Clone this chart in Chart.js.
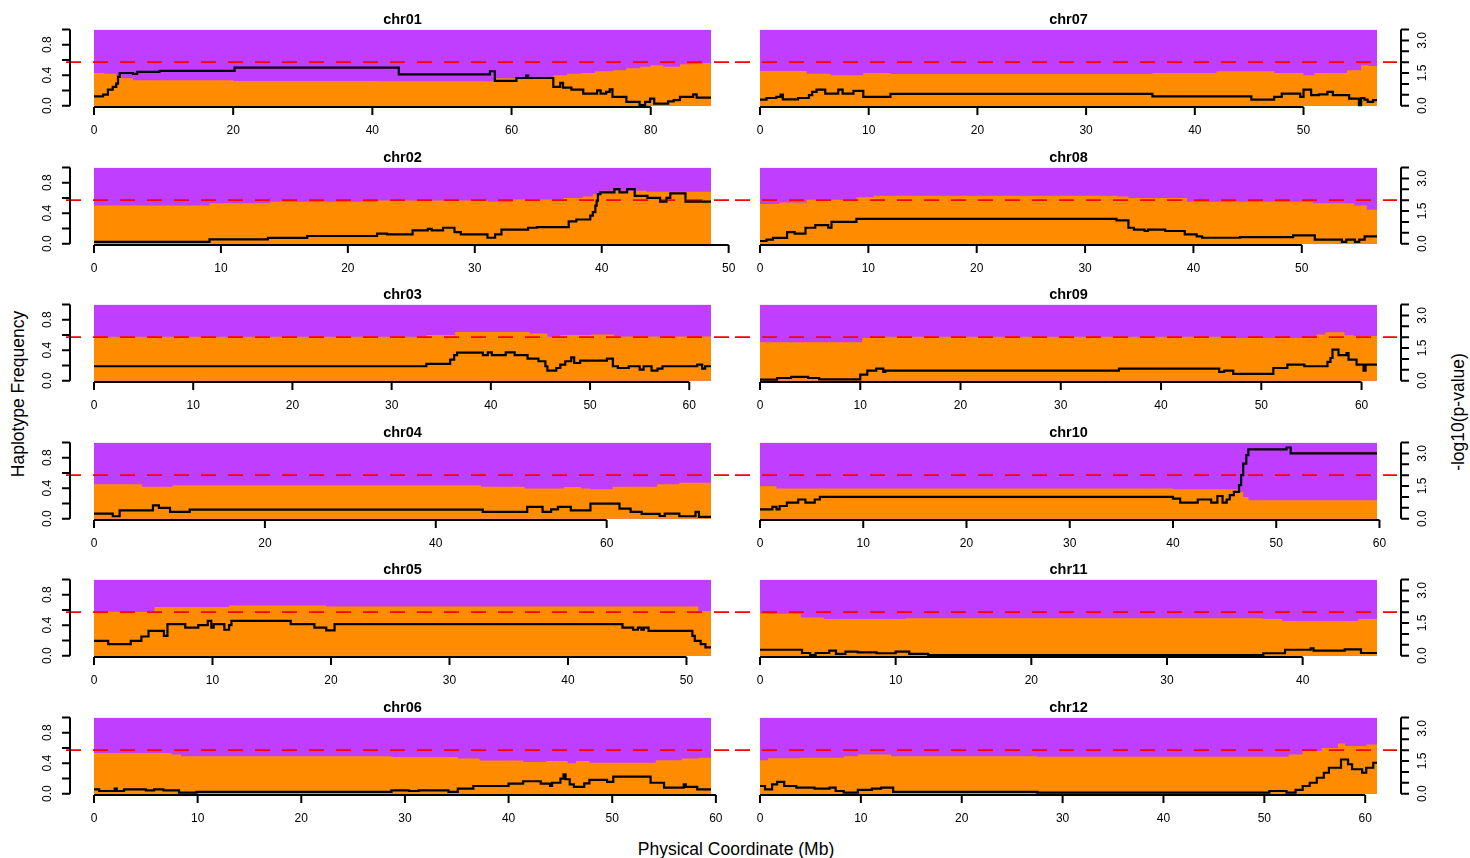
<!DOCTYPE html>
<html>
<head>
<meta charset="utf-8">
<script src="https://cdn.jsdelivr.net/npm/chart.js@4.4.1/dist/chart.umd.min.js"></script>
<style>
  body { margin: 0; background: #fff; font-family: "Liberation Sans", Arial, sans-serif; }
  #fig { position: relative; width: 1470px; height: 858px; overflow: hidden; }
  #fig canvas { position: absolute; }
  .lab { position: absolute; font-size: 17.5px; color: #000; white-space: nowrap; transform: translate(-50%, -50%); }
  .rot { transform: translate(-50%, -50%) rotate(-90deg); }
</style>
</head>
<body>
<div id="fig">
  <div class="lab rot" style="left:18px; top:394px;">Haplotype Frequency</div>
  <div class="lab rot" style="left:1458px; top:412px;">-log10(p-value)</div>
  <div class="lab" style="left:736px; top:849px;">Physical Coordinate (Mb)</div>
</div>
<script>
// chromosomes (Mb)
const chromNames = ['chr01', 'chr02', 'chr03', 'chr04', 'chr05', 'chr06', 'chr07', 'chr08', 'chr09', 'chr10', 'chr11', 'chr12'];
const chromLengths = [88.66, 48.61, 62.19, 72.21, 52.07, 59.53, 56.76, 56.94, 61.54, 59.76, 45.48, 61.17];
const chromTicks = [
    [0, 20, 40, 60, 80],
    [0, 10, 20, 30, 40, 50],
    [0, 10, 20, 30, 40, 50, 60],
    [0, 20, 40, 60],
    [0, 10, 20, 30, 40, 50],
    [0, 10, 20, 30, 40, 50, 60],
    [0, 10, 20, 30, 40, 50],
    [0, 10, 20, 30, 40, 50],
    [0, 10, 20, 30, 40, 50, 60],
    [0, 10, 20, 30, 40, 50, 60],
    [0, 10, 20, 30, 40],
    [0, 10, 20, 30, 40, 50, 60],
];

const freqTicks = [0, 0.2, 0.4, 0.6, 0.8, 1.0];
const freqLabels = ['0.0', '', '0.4', '', '0.8', ''];
const logpTicks = [0, 0.5, 1, 1.5, 2, 2.5, 3, 3.5];
const logpLabels = ['0.0', '', '', '1.5', '', '', '3.0', ''];
const threshold = 2; // -log10(0.01)

// haplotype frequency (orange part), [Mb, freq] steps
const chr01Freq = [[0,0.43],[1.5,0.42],[3.2,0.39],[4,0.36],[5.6,0.335],[20,0.325],[41,0.32],[57.5,0.36],[60.7,0.37],[66,0.40],[68,0.42],[70,0.43],[72,0.45],[74.6,0.465],[76.5,0.49],[78.5,0.51],[80,0.53],[81.8,0.51],[84.2,0.545],[86,0.55],[87.5,0.56]];
const chr02Freq = [[0,0.50],[9.1,0.53],[13.9,0.55],[22.3,0.565],[31,0.55],[33,0.58],[37,0.60],[38.5,0.62],[39.3,0.65],[39.9,0.695],[43.5,0.68]];
const chr03Freq = [[0,0.575],[33.5,0.6],[36.4,0.64],[43.9,0.62],[45.7,0.575],[47,0.6],[50.1,0.605],[52.4,0.58]];
const chr04Freq = [[0,0.45],[5.6,0.42],[9.2,0.44],[45.3,0.42],[50.4,0.395],[55,0.415],[57,0.395],[58.1,0.385],[60.7,0.42],[65.9,0.45],[68.5,0.47]];
const chr05Freq = [[0,0.575],[5.1,0.64],[11.4,0.66],[19.6,0.645],[51,0.585]];
const chr06Freq = [[0,0.535],[7.5,0.515],[8.4,0.49],[28.7,0.48],[35.1,0.46],[37.2,0.435],[41.4,0.415],[43.6,0.43],[45.7,0.40],[46.5,0.43],[47.8,0.405],[54.2,0.44],[56.7,0.46],[58.4,0.47]];
const chr07Freq = [[0,0.455],[4.3,0.42],[6.5,0.40],[9.5,0.43],[12,0.415],[36.1,0.43],[42,0.45],[47.3,0.43],[50,0.40],[51,0.43],[54,0.465],[55.3,0.53],[56,0.52]];
const chr08Freq = [[0,0.52],[1.8,0.54],[4.3,0.575],[8.9,0.61],[10.5,0.63],[33,0.62],[34,0.60],[39.4,0.55],[51,0.53],[54.8,0.50],[56,0.445]];
const chr09Freq = [[0,0.505],[10.2,0.56],[11.1,0.575],[46.5,0.56],[55.5,0.605],[56.4,0.635],[58.3,0.595],[59.2,0.585]];
const chr10Freq = [[0,0.425],[1.6,0.395],[40,0.385],[46.4,0.35],[46.8,0.285],[47.3,0.24]];
const chr11Freq = [[0,0.55],[3,0.50],[4.7,0.48],[10.7,0.49],[37.1,0.48],[38.5,0.455],[44.1,0.48]];
const chr12Freq = [[0,0.44],[0.8,0.465],[4,0.47],[8.3,0.49],[9.7,0.515],[13,0.49],[27.5,0.485],[52.4,0.515],[53.8,0.56],[55.7,0.60],[57.3,0.66],[58,0.625],[60.1,0.645]];

// -log10(p-value), [Mb, value] steps
const chr01LogP = [[0,0.43],[1.3,0.51],[2.0,0.74],[2.7,0.86],[3.2,1.01],[3.45,1.32],[3.7,1.5],[5.6,1.46],[6.2,1.55],[9.4,1.6],[20.2,1.75],[43.8,1.44],[56.9,1.58],[57.6,1.14],[60.7,1.27],[62.1,1.38],[62.4,1.27],[66.0,0.86],[67.0,1.05],[67.4,0.83],[68.6,0.74],[70.3,0.55],[72.3,0.7],[72.8,0.55],[73.6,0.63],[74.1,0.75],[74.5,0.4],[76.5,0.17],[78.4,0.02],[79.2,0.17],[79.9,0.32],[80.5,0.09],[82.5,0.2],[83.3,0.25],[84.2,0.4],[86.1,0.52],[86.6,0.37]];
const chr02LogP = [[0,0.08],[9.1,0.2],[13.7,0.26],[16.8,0.35],[22.3,0.46],[23.1,0.43],[25.1,0.61],[26.3,0.68],[26.6,0.61],[27.5,0.73],[28.4,0.53],[28.9,0.43],[31.0,0.27],[31.6,0.43],[32.1,0.64],[34.2,0.73],[34.9,0.76],[37.4,1.02],[38.0,1.11],[39.1,1.29],[39.3,1.45],[39.5,1.75],[39.6,1.98],[39.7,2.28],[39.9,2.36],[41.0,2.51],[41.4,2.36],[42.0,2.51],[42.6,2.2],[43.6,2.1],[44.6,1.93],[45.1,2.1],[45.4,2.31],[46.6,1.93]];
const chr03LogP = [[0,0.66],[33.5,0.77],[35.9,0.97],[36.3,1.17],[36.6,1.29],[39.2,1.17],[39.7,1.3],[40.1,1.17],[41.5,1.3],[42.4,1.17],[43.7,1.01],[44.8,0.89],[45.5,0.66],[45.7,0.46],[46.6,0.58],[47,0.74],[47.5,0.89],[48.1,1.07],[48.4,0.81],[49,0.92],[51.7,1.01],[52.3,0.66],[52.8,0.58],[53.9,0.66],[55.0,0.51],[55.4,0.66],[56.2,0.46],[56.8,0.55],[57.3,0.66],[60.8,0.74],[61.3,0.55],[61.6,0.66]];
const chr04LogP = [[0,0.23],[2.2,0.11],[3,0.38],[6.9,0.61],[7.6,0.49],[8.9,0.31],[11.2,0.41],[45.5,0.31],[50.7,0.54],[52.5,0.31],[53.5,0.43],[54.3,0.54],[55.8,0.38],[58.1,0.69],[61.5,0.46],[62.8,0.31],[64.1,0.22],[66.2,0.12],[66.8,0.23],[68.5,0.11],[70.4,0.31],[70.8,0.08]];
const chr05LogP = [[0,0.68],[1.2,0.53],[3.1,0.68],[4.0,0.88],[4.6,1.14],[5.9,0.91],[6.2,1.45],[7.7,1.29],[8.8,1.4],[9.6,1.6],[9.9,1.29],[10.1,1.45],[11.0,1.19],[11.4,1.4],[11.6,1.6],[16.6,1.45],[18.6,1.29],[19.6,1.16],[20.3,1.45],[44.6,1.29],[45.5,1.19],[45.9,1.29],[46.2,1.19],[46.4,1.29],[46.8,1.14],[50.5,0.91],[50.7,0.68],[51.2,0.53],[51.6,0.38]];
const chr06LogP = [[0,0.2],[0.5,0.12],[2,0.23],[2.2,0.12],[2.9,0.2],[5,0.15],[5.8,0.2],[6.7,0.15],[8.2,0.05],[9.9,0.08],[28.7,0.15],[30.4,0.12],[31.3,0.15],[34.2,0.08],[35.1,0.23],[36.6,0.35],[40,0.46],[41.4,0.57],[43.1,0.46],[44,0.35],[44.2,0.5],[45,0.69],[45.3,0.89],[45.5,0.66],[45.9,0.43],[46.3,0.31],[47.3,0.47],[47.8,0.63],[49.5,0.54],[50.1,0.78],[53.7,0.5],[55,0.28],[56.9,0.43],[57.1,0.31],[58.2,0.2]];
const chr07LogP = [[0,0.28],[0.6,0.35],[1.5,0.4],[1.9,0.51],[2.1,0.29],[3.5,0.35],[4.5,0.48],[4.8,0.63],[5.2,0.74],[6.0,0.55],[7.2,0.74],[7.6,0.55],[8.6,0.68],[9.5,0.4],[12,0.54],[36.1,0.43],[45.2,0.28],[47.3,0.4],[48,0.55],[49.7,0.4],[50,0.74],[50.7,0.48],[51.4,0.52],[52.2,0.63],[52.7,0.48],[54.2,0.32],[55.1,0.02],[55.3,0.35],[55.6,0.28],[55.9,0.17],[56.4,0.25]];
const chr08LogP = [[0,0.12],[0.6,0.18],[1.2,0.26],[2.5,0.53],[3.2,0.46],[4.2,0.73],[5.1,0.85],[6.3,0.73],[6.6,1.0],[8.9,1.14],[32.9,1.07],[34,0.73],[34.5,0.64],[35.5,0.58],[35.8,0.64],[37.4,0.58],[39.2,0.43],[40.3,0.33],[40.8,0.27],[44.3,0.3],[49.2,0.38],[51.2,0.18],[53.7,0.08],[54.1,0.18],[54.9,0.08],[55.3,0.18],[55.8,0.33]];
const chr09LogP = [[0,0.05],[1.7,0.12],[3.1,0.17],[4.8,0.12],[5.9,0.06],[10,0.28],[10.7,0.46],[11.6,0.55],[12.3,0.4],[12.5,0.46],[35.8,0.55],[45.8,0.4],[46.3,0.46],[47.2,0.31],[51.2,0.58],[52.6,0.74],[54.3,0.66],[56.6,0.86],[56.9,1.04],[57.1,1.43],[57.7,1.17],[58.5,1.27],[58.7,0.97],[59.5,0.74],[60.2,0.46],[60.4,0.74]];
const chr10LogP = [[0,0.43],[1.2,0.54],[1.6,0.43],[1.9,0.58],[2.6,0.74],[3.7,0.88],[4.4,0.74],[5.3,0.88],[5.8,1.0],[40,0.92],[40.7,0.74],[42.4,0.88],[43.7,0.74],[44.3,1.04],[44.8,0.74],[45.2,0.88],[45.5,1.08],[45.9,1.23],[46.4,1.54],[46.6,2.0],[46.8,2.53],[47.1,2.92],[47.3,3.18],[51.0,3.27],[51.4,3.0]];
const chr11LogP = [[0,0.27],[3.1,0.12],[3.7,0.03],[4.1,0.12],[5.1,0.23],[5.6,0.08],[6.3,0.18],[7.2,0.15],[8.6,0.11],[10,0.18],[11,0.08],[12.4,0.03],[37.1,0.11],[38.7,0.27],[40.6,0.33],[40.8,0.23],[43.1,0.29],[44.3,0.12]];
const chr12LogP = [[0,0.35],[0.5,0.2],[1.2,0.43],[1.7,0.54],[2.4,0.35],[3.6,0.28],[5.4,0.23],[6.9,0.28],[7.5,0.12],[8.3,0.05],[9.7,0.17],[11.1,0.23],[12,0.28],[13.2,0.08],[27.5,0.05],[50.5,0.12],[52.2,0.05],[53.1,0.17],[53.8,0.35],[54.5,0.5],[55.2,0.73],[55.9,0.96],[56.4,1.19],[57.6,1.57],[58.3,1.35],[58.7,1.12],[59.7,0.96],[60.1,1.19],[60.8,1.42]];

const allFreq = [chr01Freq, chr02Freq, chr03Freq, chr04Freq, chr05Freq, chr06Freq, chr07Freq, chr08Freq, chr09Freq, chr10Freq, chr11Freq, chr12Freq];
const allLogP = [chr01LogP, chr02LogP, chr03LogP, chr04LogP, chr05LogP, chr06LogP, chr07LogP, chr08LogP, chr09LogP, chr10LogP, chr11LogP, chr12LogP];

const PURPLE = '#BF3EFF';
const ORANGE = '#FF8C00';
const FONT = '"Liberation Sans", Arial, sans-serif';

// step data closed at the chromosome end
function stepPoints(pairs, len) {
    const pts = pairs.map(p => ({ x: p[0], y: p[1] }));
    pts.push({ x: len, y: pairs[pairs.length - 1][1] });
    return pts;
}

// R-like axes + threshold line
function makeRPlugin(i, col) {
    return {
        id: 'rAxes' + i,
        afterDatasetDraw(chart, args) {
            if (args.index !== 1) return; // after the orange area, under the black line
            const ctx = chart.ctx;
            const y = chart.scales.y2.getPixelForValue(threshold);
            ctx.save();
            ctx.strokeStyle = '#FF0000';
            ctx.lineWidth = 1.8;
            ctx.setLineDash([15, 12]);
            ctx.beginPath();
            if (col === 0) {
                ctx.moveTo(66, y);
                ctx.lineTo(chart.width, y);
            } else {
                ctx.moveTo(0, y);
                ctx.lineTo(chart.chartArea.right + 20, y);
            }
            ctx.stroke();
            ctx.restore();
        },
        afterDraw(chart) {
            const ctx = chart.ctx;
            const area = chart.chartArea;
            const xs = chart.scales.x;
            ctx.save();
            ctx.strokeStyle = '#000';
            ctx.fillStyle = '#000';
            ctx.lineWidth = 2;
            ctx.font = '12px ' + FONT;

            // x axis
            const ticks = chromTicks[i];
            const yb = area.bottom;
            ctx.beginPath();
            ctx.moveTo(xs.getPixelForValue(ticks[0]), yb);
            ctx.lineTo(xs.getPixelForValue(ticks[ticks.length - 1]), yb);
            ticks.forEach(t => {
                const px = xs.getPixelForValue(t);
                ctx.moveTo(px, yb);
                ctx.lineTo(px, yb + 8);
            });
            ctx.stroke();
            ctx.textAlign = 'center';
            ctx.textBaseline = 'middle';
            ticks.forEach(t => ctx.fillText(String(t), xs.getPixelForValue(t), yb + 23.5));

            // y axis: frequency on the left column, -log10(p) on the right one
            const sc = col === 0 ? chart.scales.y : chart.scales.y2;
            const tv = col === 0 ? freqTicks : logpTicks;
            const tl = col === 0 ? freqLabels : logpLabels;
            const ax = col === 0 ? area.left - 24 : area.right + 24;
            const dir = col === 0 ? -1 : 1;
            ctx.beginPath();
            ctx.moveTo(ax, sc.getPixelForValue(tv[0]));
            ctx.lineTo(ax, sc.getPixelForValue(tv[tv.length - 1]));
            tv.forEach(v => {
                const py = sc.getPixelForValue(v);
                ctx.moveTo(ax, py);
                ctx.lineTo(ax + dir * 8, py);
            });
            ctx.stroke();
            tv.forEach((v, k) => {
                if (!tl[k]) return;
                ctx.save();
                ctx.translate(ax + dir * 22, sc.getPixelForValue(v));
                ctx.rotate(-Math.PI / 2);
                ctx.fillText(tl[k], 0, 0);
                ctx.restore();
            });
            ctx.restore();
        }
    };
}

function criarPainel(i) {
    const col = i < 6 ? 0 : 1;
    const row = i % 6;
    const len = chromLengths[i];

    const canvas = document.createElement('canvas');
    canvas.width = 735;
    canvas.height = 138;
    canvas.style.left = (col * 735) + 'px';
    canvas.style.top = Math.round(row * 137.6) + 'px';
    document.getElementById('fig').appendChild(canvas);

    new Chart(canvas.getContext('2d'), {
        type: 'line',
        data: {
            datasets: [
                {
                    // purple = other haplotype, fills up to 1
                    data: [{ x: 0, y: 1 }, { x: len, y: 1 }],
                    backgroundColor: PURPLE,
                    borderWidth: 0,
                    pointRadius: 0,
                    fill: 'origin',
                    yAxisID: 'y',
                    order: 3,
                },
                {
                    data: stepPoints(allFreq[i], len),
                    backgroundColor: ORANGE,
                    borderWidth: 0,
                    pointRadius: 0,
                    stepped: true,
                    fill: 'origin',
                    yAxisID: 'y',
                    order: 2,
                },
                {
                    data: stepPoints(allLogP[i], len),
                    borderColor: '#000',
                    borderWidth: 2.2,
                    pointRadius: 0,
                    stepped: true,
                    fill: false,
                    yAxisID: 'y2',
                    order: 1,
                },
            ],
        },
        options: {
            responsive: false,
            animation: false,
            devicePixelRatio: 1,
            layout: {
                padding: col === 0
                    ? { left: 94, right: 24, top: 0, bottom: 31 }
                    : { left: 25, right: 93, top: 0, bottom: 31 },
            },
            scales: {
                x: { type: 'linear', min: 0, max: len, display: false },
                y: { min: -0.018, max: 1, display: false },
                y2: { min: -0.063, max: 3.5, display: false },
            },
            plugins: {
                legend: { display: false },
                tooltip: { enabled: false },
                title: {
                    display: true,
                    text: chromNames[i],
                    color: '#000',
                    font: { family: FONT, size: 14.5, weight: 'bold', lineHeight: 1.2 },
                    padding: { top: 11.3, bottom: 0.8 },
                },
            },
        },
        plugins: [makeRPlugin(i, col)],
    });
}

chromNames.forEach((nome, i) => criarPainel(i));
</script>
</body>
</html>
